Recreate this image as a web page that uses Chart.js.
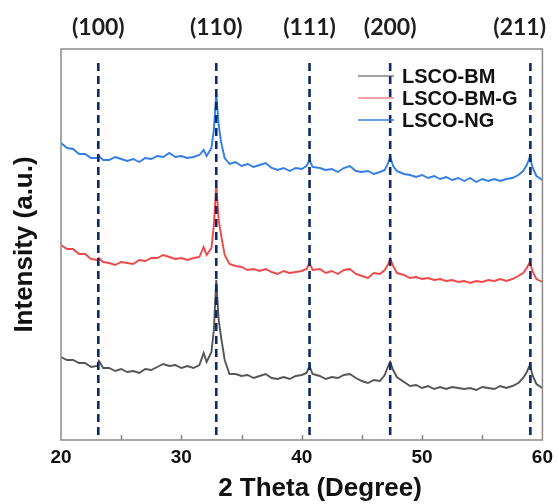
<!DOCTYPE html>
<html>
<head>
<meta charset="utf-8">
<script src="https://cdn.jsdelivr.net/npm/chart.js@4"></script>
<style>
  html, body { margin: 0; padding: 0; background: #fff; }
  #wrap { width: 559px; height: 504px; }
</style>
</head>
<body>
<div id="wrap"><canvas id="xrd" width="559" height="504"></canvas></div>
<script>
// 2 theta angles (degree), shared by the three patterns
const angles = [
  20, 20.5, 21, 21.5, 22, 22.5, 23, 23.15, 23.5, 24, 24.5, 25, 25.5, 26, 26.5, 27, 27.5, 28, 28.5, 29, 29.5,
  30, 30.5, 31, 31.5, 31.85, 32.1, 32.5, 32.7, 32.9, 33.1, 33.3, 33.6, 34, 34.5, 35, 35.5, 36, 36.5, 37, 37.5,
  38, 38.5, 39, 39.5, 40, 40.4, 40.65, 40.9, 41.5, 42, 42.5, 43, 43.5, 44, 44.5, 45, 45.5, 46, 46.5, 46.9,
  47.15, 47.35, 47.6, 47.9, 48.5, 49, 49.5, 50, 50.5, 51, 51.5, 52, 52.5, 53, 53.5, 54, 54.5, 55, 55.5, 56,
  56.5, 57, 57.5, 58, 58.4, 58.7, 58.95, 59.2, 59.5, 60
];

// intensity (a.u.), offset stacked as in the figure
const ngIntensity = [
  297, 292, 291, 286, 286, 282, 282, 284, 280, 280, 283, 281, 279, 281, 278, 282, 281, 284, 283, 287, 283,
  284, 282, 283, 285, 290, 284, 292, 310, 347, 315, 298, 282, 276, 278, 274, 276, 273, 275, 277, 272,
  270, 272, 269, 272, 271, 274, 280, 273, 272, 270, 271, 268, 272, 274, 269, 268, 269, 266, 268, 270,
  276, 283, 274, 269, 266, 265, 263, 265, 262, 264, 261, 263, 260, 262, 259, 262, 258, 261, 259, 261,
  259, 261, 262, 265, 269, 275, 283, 272, 264, 260
];
const bmgIntensity = [
  195, 191, 191, 186, 186, 181, 180, 182, 178, 177, 175, 178, 177, 176, 180, 179, 182, 182, 185, 183, 181,
  182, 180, 182, 183, 193, 185, 192, 215, 255, 220, 205, 185, 176, 174, 173, 170, 171, 169, 171, 168,
  166, 169, 167, 168, 169, 171, 177, 170, 171, 167, 169, 166, 170, 171, 166, 164, 162, 167, 166, 170,
  175, 181, 174, 167, 165, 162, 163, 161, 162, 160, 161, 159, 160, 158, 159, 157, 159, 158, 160, 159,
  161, 159, 161, 164, 167, 172, 178, 168, 161, 158
];
const bmIntensity = [
  83, 80, 80, 77, 77, 73, 74, 79, 72, 72, 69, 71, 68, 69, 67, 71, 70, 73, 76, 74, 75,
  72, 74, 72, 75, 87, 78, 88, 110, 160, 120, 103, 80, 66, 66, 64, 65, 62, 64, 66, 62,
  61, 63, 61, 64, 65, 67, 74, 66, 64, 61, 63, 62, 65, 66, 62, 59, 57, 60, 59, 65,
  73, 78, 70, 63, 58, 54, 55, 52, 54, 51, 53, 51, 53, 52, 51, 52, 50, 53, 52, 51,
  54, 52, 54, 57, 62, 68, 75, 64, 56, 52
];

// reflections marked with dashed lines
const peakAngles = [23.1, 32.9, 40.65, 47.35, 59.0];
const peakLabels = ["(100)", "(110)", "(111)", "(200)", "(211)"];

const xTicks = [20, 30, 40, 50, 60];
const xTitle = "2 Theta (Degree)";

const toPoints = (ys) => angles.map((a, i) => ({ x: a, y: ys[i] }));

const spectra = [
  { label: "LSCO-BM", data: bmIntensity, color: "rgb(85,85,85)", legendColor: "rgba(85,85,85,0.55)" },
  { label: "LSCO-BM-G", data: bmgIntensity, color: "rgb(240,72,72)", legendColor: "rgba(240,70,70,0.5)" },
  { label: "LSCO-NG", data: ngIntensity, color: "rgb(50,125,228)", legendColor: "rgba(45,120,225,0.7)" },
];

// dashed guide lines first so they are painted on top
const datasets = peakAngles.map((p) => ({
  data: [{ x: p, y: 5 }, { x: p, y: 382 }],
  borderColor: "#0b2a66",
  borderWidth: 2.6,
  borderDash: [8, 5],
  pointRadius: 0,
  guide: true,
}));
spectra.forEach((s) => {
  datasets.push({
    label: s.label,
    data: toPoints(s.data),
    borderColor: s.color,
    borderWidth: 1.9,
    pointRadius: 0,
    tension: 0,
    legendColor: s.legendColor,
  });
});

const overlay = {
  id: "overlay",
  afterDraw(chart) {
    const { ctx, chartArea: a } = chart;
    const x = chart.scales.x;
    ctx.save();

    // frame
    ctx.strokeStyle = "#8a8a8a";
    ctx.lineWidth = 1.5;
    ctx.strokeRect(a.left, a.top, a.right - a.left, a.bottom - a.top);

    // small inward ticks
    for (let v = 25; v < 60; v += 5) {
      const px = Math.round(x.getPixelForValue(v)) + 0.5;
      ctx.beginPath();
      ctx.moveTo(px, a.bottom);
      ctx.lineTo(px, a.bottom - 5);
      ctx.stroke();
    }

    // reflection labels
    ctx.font = "bold 23px Lato";
    ctx.fillStyle = "#1e1e1e";
    ctx.textAlign = "center";
    ctx.textBaseline = "middle";
    peakAngles.forEach((p, i) => {
      const w = ctx.measureText(peakLabels[i]).width;
      let cx = x.getPixelForValue(p);
      cx = Math.min(cx, chart.width - 13 - w / 2);
      ctx.fillText(peakLabels[i], cx, 28);
    });

    // x axis title (sits a little right of centre in the original)
    ctx.font = "bold 26px 'Liberation Sans', Arial";
    ctx.fillStyle = "#111";
    ctx.fillText(xTitle, 320, 489);

    // legend
    ctx.font = "bold 20px 'Liberation Sans', Arial";
    ctx.textAlign = "left";
    chart.data.datasets.filter((d) => !d.guide).forEach((d, i) => {
      const y = 76 + i * 22;
      ctx.strokeStyle = d.legendColor;
      ctx.lineWidth = 2;
      ctx.beginPath();
      ctx.moveTo(358, y);
      ctx.lineTo(394, y);
      ctx.stroke();
      ctx.fillText(d.label, 402, y + 1);
    });

    ctx.restore();
  },
};

new Chart(document.getElementById("xrd"), {
  type: "line",
  data: { datasets },
  options: {
    responsive: false,
    animation: false,
    layout: { padding: { top: 49, right: 12, left: 0, bottom: 0 } },
    plugins: { legend: { display: false }, tooltip: { enabled: false } },
    scales: {
      x: {
        type: "linear",
        min: 20,
        max: 60,
        afterBuildTicks: (scale) => {
          scale.ticks = xTicks.map((v) => ({ value: v }));
        },
        afterFit: (scale) => {
          scale.height = 64;
        },
        grid: { display: false, drawTicks: false },
        border: { display: false },
        ticks: {
          padding: 6,
          color: "#111",
          font: { family: "'Liberation Sans', Arial", weight: "bold", size: 19 },
        },
      },
      y: {
        min: 0,
        max: 391,
        afterFit: (scale) => {
          scale.width = 61;
        },
        grid: { display: false, drawTicks: false },
        border: { display: false },
        ticks: { display: false },
        title: {
          display: true,
          text: "Intensity (a.u.)",
          color: "#111",
          padding: { top: 9, bottom: 0 },
          font: { family: "'Liberation Sans', Arial", weight: "bold", size: 26 },
        },
      },
    },
  },
  plugins: [overlay],
});
</script>
</body>
</html>
